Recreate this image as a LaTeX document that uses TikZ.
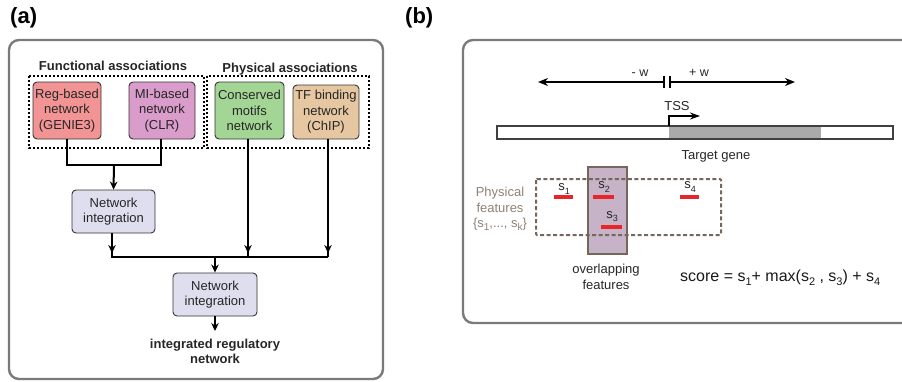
\documentclass[tikz,border=0pt]{standalone}
\usepackage{fontspec}
\setmainfont{Liberation Sans}
\usetikzlibrary{arrows.meta}
\definecolor{regc}{HTML}{F29494}
\definecolor{mic}{HTML}{DA9CCB}
\definecolor{motc}{HTML}{A3D595}
\definecolor{tfc}{HTML}{E7C7A1}
\definecolor{intc}{HTML}{DEDEEE}
\definecolor{framec}{HTML}{7A7A7A}
\definecolor{brownc}{HTML}{76675A}
\definecolor{featc}{HTML}{8F8275}
\definecolor{ovc}{HTML}{C6B3C8}
\definecolor{redc}{HTML}{E8262A}
\definecolor{genec}{HTML}{AAAAAA}
\newcommand\mysub[2]{\raisebox{-0.45ex}{\fontsize{#2}{#2}\selectfont #1}}
\tikzset{
  frame/.style={draw=framec, line width=2.4pt, rounded corners=10pt},
  netbox/.style={draw=black!80, line width=0.9pt, rounded corners=4pt, align=center,
     inner sep=0pt, font=\fontsize{13}{15.5}\selectfont, text=black!85},
  grp/.style={draw=black, line width=1.1pt, dash pattern=on 2.2pt off 1.8pt},
  conn/.style={line width=2pt},
  arr/.style={conn, -{Stealth[length=8pt,width=7.5pt]}},
  title/.style={font=\fontsize{13}{15.5}\selectfont\bfseries, text=black!85, align=center},
  lbl/.style={font=\fontsize{13}{15.5}\selectfont, text=black!85, align=center},
  feat/.style={line width=3.5pt, draw=redc},
  slabel/.style={font=\fontsize{13}{15}\selectfont, text=black!85, inner sep=0pt}
}
\begin{document}
\begin{tikzpicture}[x=1pt,y=-1pt]
\useasboundingbox (0,0) rectangle (902,381);
\clip (0,0) rectangle (902,381);
% ---------------- panel (a)
\node[font=\fontsize{22}{24}\selectfont\bfseries, anchor=west, inner sep=0pt] (la) at (10,18) {(a)};
\draw[frame] (9,40) rectangle (383,379);
\node[title] (tfun) at (113,66) {Functional associations};
\node[title] (tphy) at (290,69) {Physical associations};
\draw[grp] (29,76) rectangle (204,148);
\draw[grp] (207,76) rectangle (369,148);
\node[netbox, fill=regc, minimum width=68pt, minimum height=57pt] (reg) at (67,110.5) {Reg-based\\network\\(GENIE3)};
\node[netbox, fill=mic, minimum width=66pt, minimum height=57pt] (mi) at (162,110.5) {MI-based\\network\\(CLR)};
\node[netbox, fill=motc, minimum width=69pt, minimum height=57pt] (mot) at (249.5,110.5) {Conserved\\motifs\\network};
\node[netbox, fill=tfc, minimum width=66pt, minimum height=54pt] (tf) at (326,112) {TF binding\\network\\(ChIP)};
\node[netbox, fill=intc, minimum width=83pt, minimum height=43pt] (int1) at (113.5,211.5) {Network\\integration};
\node[netbox, fill=intc, minimum width=84pt, minimum height=43pt] (int2) at (215,294.5) {Network\\integration};
\node[title, text depth=0pt] (out) at (215,351.5) {integrated regulatory\\network};
\coordinate (j1) at (114,165);
\coordinate (j2) at (215,257);
\draw[conn] (reg.south -| 67,0) |- (j1) -| (mi.south -| 161,0);
\draw[arr] (j1) -- (int1.north);
\draw[conn] (int1.south -| 112,0) -- (112,257) -- (328,257);
\draw[arr] (int1.south -| 112,0) -- (112,253);
\draw[arr] (mot.south -| 248,0) -- (248,253);
\draw[arr] (tf.south -| 328,0) -- (328,253);
\draw[conn] (tf.south -| 328,0) -- (328,257);
\draw[conn] (mot.south -| 248,0) -- (248,257);
\draw[arr] (j2) -- (int2.north);
\draw[arr] (int2.south) -- (215,331);
% ---------------- panel (b)
\node[font=\fontsize{22}{24}\selectfont\bfseries, anchor=west, inner sep=0pt] (lb) at (405,18) {(b)};
\draw[frame] (463,40) rectangle (915,323);
% window arrows
\coordinate (tl) at (664,82);
\coordinate (tr) at (670,82);
\coordinate (al) at (538,82);
\coordinate (ar) at (795,82);
\draw[conn, -{Stealth[length=10pt,width=8pt]}] (tl) -- (al);
\draw[conn, -{Stealth[length=10pt,width=8pt]}] (tr) -- (ar);
\draw[line width=2pt] (664,76) -- (664,88);
\draw[line width=2pt] (670,76) -- (670,88);
\node[font=\fontsize{12.5}{14}\selectfont, text=black!85] (mw) at (640,73) {- w};
\node[font=\fontsize{12.5}{14}\selectfont, text=black!85] (pw) at (699,73) {+ w};
% gene
\node[lbl] (tss) at (677,106) {TSS};
\fill[genec] (669,126) rectangle (821,139);
\draw[line width=2.4pt, draw=black!75] (497,126) rectangle (893,139);
\coordinate (tssb) at (669,126);
\draw[line width=2pt, -{Stealth[length=10pt,width=7pt]}] (tssb) -- (669,116) -- (700,116);
\node[lbl] (tg) at (716,156) {Target gene};
% overlapping features box
\draw[fill=ovc, draw=brownc, line width=2pt] (588,167) rectangle (627,254);
\draw[draw=brownc, line width=2pt, dash pattern=on 4pt off 2.5pt, rounded corners=1pt] (536,179) rectangle (721,235);
\node[lbl, text=featc] (pf) at (500,209) {Physical\\features\\\{s\mysub{1}{10},..., s\mysub{k}{10}\}};
% features
\draw[feat] (554,197) -- (573,197);
\draw[feat] (593,197) -- (614,197);
\draw[feat] (680,197) -- (699,197);
\draw[feat] (601,227) -- (622,227);
\node[slabel] (s1) at (564,189) {s\mysub{1}{9}};
\node[slabel] (s2) at (604,187) {s\mysub{2}{9}};
\node[slabel] (s3) at (612,217) {s\mysub{3}{9}};
\node[slabel] (s4) at (690,187) {s\mysub{4}{9}};
\node[lbl] (ovl) at (606,277) {overlapping\\features};
\node[font=\fontsize{16}{18}\selectfont, text=black!90, anchor=west, inner sep=0pt] (score) at (680,278)
  {score = s\mysub{1}{11}+ max(s\mysub{2}{11} , s\mysub{3}{11}) + s\mysub{4}{11}};
\end{tikzpicture}
\end{document}
